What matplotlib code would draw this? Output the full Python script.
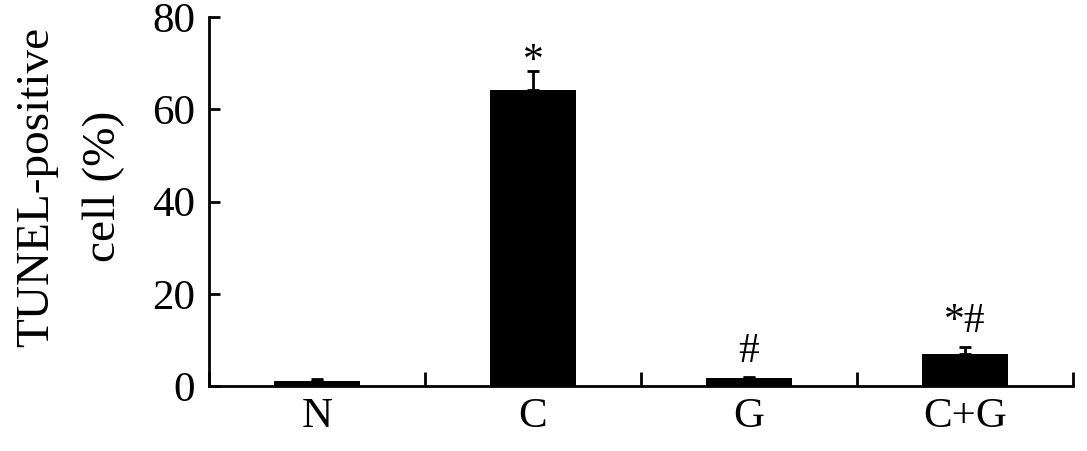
import matplotlib
matplotlib.use("Agg")
import matplotlib.pyplot as plt

# data
groups = ["N", "C", "G", "C+G"]
means = [1.1, 64.2, 1.7, 6.9]
errs = [0.4, 4.0, 0.3, 1.6]
marks = ["", "*", "#", "*#"]

plt.rcParams["font.family"] = ["Liberation Serif", "DejaVu Serif"]

fig = plt.figure(figsize=(10.87, 4.51), dpi=100)
ax = fig.add_axes([0.1923, 0.1441, 0.7948, 0.8182])

x = list(range(len(groups)))
ax.bar(x, means, width=0.4, color="black", zorder=2)
ax.errorbar(x, means, yerr=[[0] * len(errs), errs], fmt="none",
            ecolor="black", elinewidth=2, capsize=4, capthick=2, zorder=3)

for xi, m, e, s in zip(x, means, errs, marks):
    if not s:
        continue
    # a lone asterisk sits high in its box, so pull it down
    dy = -7 if s == "*" else 4
    ax.annotate(s, (xi, m + e), xytext=(0, dy), textcoords="offset points",
                ha="center", va="bottom", fontsize=30)

ax.set_xlim(-0.5, len(groups) - 0.5)
ax.set_ylim(0, 80)
ax.set_yticks([0, 20, 40, 60, 80])

# category labels in the middle, boundary ticks pointing up
ax.set_xticks([i - 0.5 for i in range(len(groups) + 1)])
ax.set_xticklabels([])
ax.set_xticks(x, minor=True)
ax.set_xticklabels(groups, minor=True, fontsize=31)
ax.tick_params(axis="x", which="major", direction="in", length=10, width=2)
ax.tick_params(axis="x", which="minor", length=0, pad=8)
ax.tick_params(axis="y", direction="in", length=8, width=2, labelsize=31, pad=10)

ax.spines["top"].set_visible(False)
ax.spines["right"].set_visible(False)
ax.spines["left"].set_linewidth(2)
ax.spines["bottom"].set_linewidth(2)

ax.set_ylabel("TUNEL-positive\ncell (%)", fontsize=34, linespacing=1.75)
ax.yaxis.set_label_coords(-0.097, 0.54)

fig.savefig("out.png", dpi=100)
